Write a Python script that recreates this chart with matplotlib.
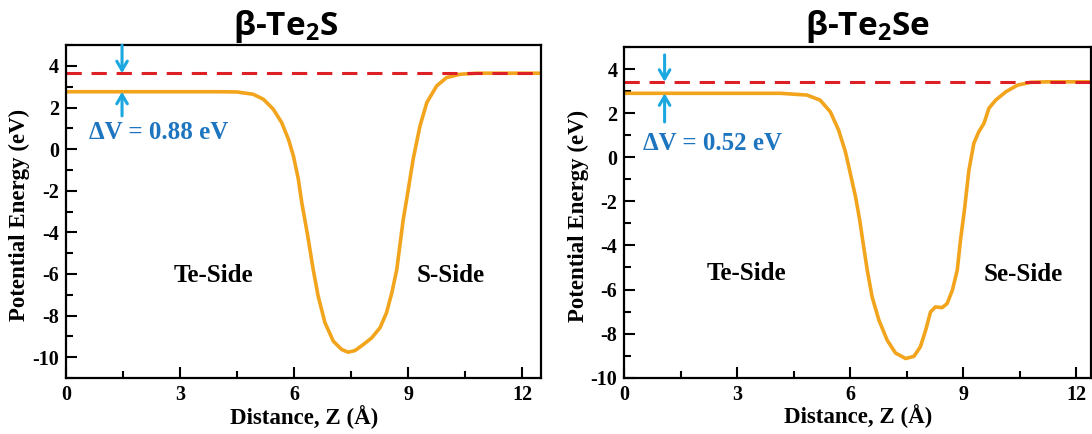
import numpy as np
import matplotlib.pyplot as plt
from matplotlib.ticker import MultipleLocator

plt.rcParams['font.family'] = ['Liberation Serif', 'DejaVu Serif']
plt.rcParams['font.weight'] = 'bold'
plt.rcParams['axes.unicode_minus'] = False
plt.rcParams['mathtext.fontset'] = 'custom'
plt.rcParams['mathtext.rm'] = 'Open Sans:bold'
plt.rcParams['mathtext.it'] = 'Open Sans:bold'

# potential profiles (Z in Angstrom, V in eV)
te2s_z = [0.0, 2.0, 4.0, 4.49, 4.92, 5.19, 5.45, 5.67, 5.85, 5.98, 6.11, 6.2, 6.35,
          6.5, 6.63, 6.81, 7.03, 7.25, 7.42, 7.6, 7.82, 8.04, 8.26, 8.43, 8.57,
          8.7, 8.87, 8.96, 9.13, 9.31, 9.49, 9.75, 10.01, 10.36, 10.8, 12.5]
te2s_v = [2.76, 2.76, 2.76, 2.75, 2.64, 2.4, 1.92, 1.28, 0.47, -0.33, -1.45, -2.57, -4.1,
          -5.78, -7.06, -8.34, -9.23, -9.63, -9.76, -9.68, -9.39, -9.07, -8.58, -7.86, -6.9,
          -5.78, -3.37, -2.41, -0.49, 1.11, 2.24, 3.04, 3.44, 3.6, 3.65, 3.65]
te2s_vac = 3.65
te2s_dv = '0.88'

te2se_z = [0.0, 2.0, 4.14, 4.85, 5.2, 5.47, 5.69, 5.87, 6.0, 6.14, 6.25, 6.35, 6.45,
           6.58, 6.76, 6.98, 7.2, 7.47, 7.69, 7.86, 8.0, 8.13, 8.26, 8.44, 8.57,
           8.71, 8.84, 8.93, 9.03, 9.15, 9.28, 9.41, 9.55, 9.68, 9.86, 10.13, 10.44,
           10.79, 11.23, 12.4]
te2se_v = [2.9, 2.9, 2.9, 2.82, 2.59, 2.06, 1.23, 0.25, -0.73, -1.8, -2.85, -4.0, -5.12,
           -6.34, -7.39, -8.3, -8.88, -9.13, -9.03, -8.6, -7.85, -7.02, -6.79, -6.82, -6.64,
           -6.03, -5.12, -3.7, -2.4, -0.58, 0.63, 1.15, 1.54, 2.22, 2.59, 2.97, 3.27,
           3.4, 3.42, 3.42]
te2se_vac = 3.42
te2se_dv = '0.52'

orange = '#F2A41C'
red = '#DD1F26'
cyan = '#1BA8E0'
blue = '#1E75BF'

fig = plt.figure(figsize=(10.92, 4.34), dpi=100)
ax1 = fig.add_axes([0.0606, 0.129, 0.435, 0.767])
ax2 = fig.add_axes([0.5717, 0.1297, 0.4277, 0.762])

panels = [
    (ax1, te2s_z, te2s_v, te2s_vac, te2s_dv, (0, 12.5), (-11, 5), 1.47, (5.0, 1.6),
     (0.59, 0.8), (3.87, -6.07), (10.12, -6.07), 'S-Side'),
    (ax2, te2se_z, te2se_v, te2se_vac, te2se_dv, (0, 12.4), (-10, 5), 1.07, (4.64, 1.6),
     (0.49, 0.63), (3.24, -5.28), (10.59, -5.3), 'Se-Side'),
]

for ax, z, v, vac, dv, xl, yl, xa, (ytop, ybot), dvpos, tepos, sidepos, sidelab in panels:
    ax.plot(z, v, color=orange, lw=2.6, solid_joinstyle='round', solid_capstyle='round')
    ax.axhline(vac, color=red, lw=2.2, ls=(0, (5, 3.2)))
    ax.set_xlim(*xl)
    ax.set_ylim(*yl)
    ax.xaxis.set_major_locator(MultipleLocator(3))
    ax.xaxis.set_minor_locator(MultipleLocator(1.5))
    ax.yaxis.set_major_locator(MultipleLocator(2))
    ax.yaxis.set_minor_locator(MultipleLocator(1))
    ax.tick_params(which='both', direction='in', top=False, right=False,
                   labelsize=14.5, width=1.5, pad=5)
    ax.tick_params(which='major', length=8)
    ax.tick_params(which='minor', length=5)
    for s in ax.spines.values():
        s.set_linewidth(1.6)
    ax.set_xlabel('Distance, Z (Å)', fontsize=16.5, fontweight='bold')
    ax.set_ylabel('Potential Energy (eV)', fontsize=16.5, fontweight='bold')
    ax.xaxis.set_label_coords(0.5, -0.08)
    ax.yaxis.set_label_coords(-0.076, 0.49)

    # delta V arrows
    flat = v[0]
    head = '->,head_length=0.65,head_width=0.38'
    ax.annotate('', xy=(xa, vac), xytext=(xa, ytop),
                arrowprops=dict(arrowstyle=head, color=cyan, lw=2.2, shrinkA=0, shrinkB=0))
    ax.annotate('', xy=(xa, flat), xytext=(xa, ybot),
                arrowprops=dict(arrowstyle=head, color=cyan, lw=2.2, shrinkA=0, shrinkB=0))
    ax.text(dvpos[0], dvpos[1], 'ΔV = ' + dv + ' eV', color=blue, fontsize=18,
            fontweight='bold', ha='left', va='center')
    ax.text(tepos[0], tepos[1], 'Te-Side', fontsize=18, fontweight='bold',
            ha='center', va='center')
    ax.text(sidepos[0], sidepos[1], sidelab, fontsize=18, fontweight='bold',
            ha='center', va='center')

fig.text(286 / 1092, 0.94, r'β-Te$_2$S', fontsize=24, fontweight='bold',
         family=['Open Sans', 'DejaVu Sans'], ha='center', va='center')
fig.text(868 / 1092, 0.94, r'β-Te$_2$Se', fontsize=24, fontweight='bold',
         family=['Open Sans', 'DejaVu Sans'], ha='center', va='center')

fig.savefig('out.png', dpi=100)
